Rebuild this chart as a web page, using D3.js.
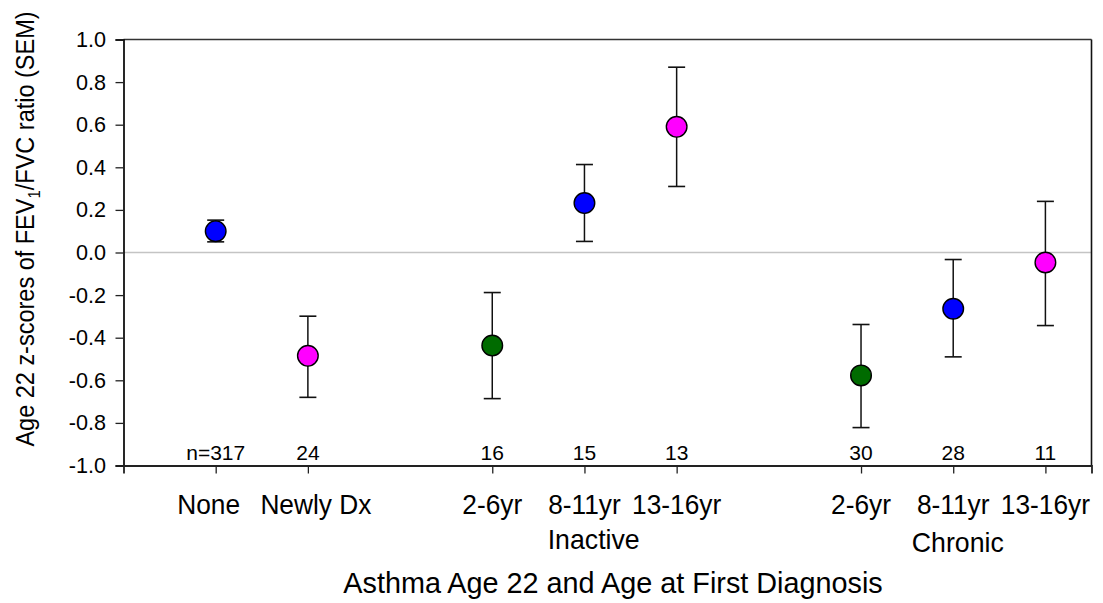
<!DOCTYPE html>
<html><head><meta charset="utf-8">
<script src="https://cdn.jsdelivr.net/npm/d3@7/dist/d3.min.js"></script>
<style>body{margin:0;background:#fff}text{font-family:"Liberation Sans",Arial,sans-serif;fill:#000}</style>
</head><body><svg id="c" width="1103" height="603"></svg>
<script>
const positions = [1, 2, 4, 5, 6, 8, 9, 10];
const categories = ["None", "Newly Dx", "2-6yr", "8-11yr", "13-16yr", "2-6yr", "8-11yr", "13-16yr"];
const groupLabels = [{pos: 5.1, text: "Inactive"}, {pos: 9.05, text: "Chronic"}];
const means = [0.10, -0.485, -0.437, 0.232, 0.59, -0.577, -0.264, -0.047];
const upper = [0.152, -0.299, -0.188, 0.413, 0.87, -0.338, -0.033, 0.24];
const lower = [0.05, -0.68, -0.686, 0.052, 0.31, -0.822, -0.49, -0.343];
const counts = ["n=317", "24", "16", "15", "13", "30", "28", "11"];
const colors = ["#0000ff", "#ff00ff", "#006b00", "#0000ff", "#ff00ff", "#006b00", "#0000ff", "#ff00ff"];
const yTicks = [1.0, 0.8, 0.6, 0.4, 0.2, 0.0, -0.2, -0.4, -0.6, -0.8, -1.0];

const svg = d3.select("#c");
const x = d3.scaleLinear().domain([0, 10.5]).range([123.5, 1091.5]);
const y = d3.scaleLinear().domain([-1, 1]).range([465.5, 39.5]);

function label(px, py, str, size, anchor, sy) {
  return svg.append("text")
    .attr("transform", `translate(${px},${py}) scale(1,${sy || 1})`)
    .attr("text-anchor", anchor || "middle")
    .style("font-size", size + "px").text(str);
}

// zero line
svg.append("line").attr("x1", x(0)).attr("x2", x(10.5)).attr("y1", y(0)).attr("y2", y(0))
  .attr("stroke", "#c4c4c4").attr("stroke-width", 1.5);

// frame top/right
svg.append("line").attr("x1", x(0)).attr("x2", x(10.5)).attr("y1", y(1)).attr("y2", y(1)).attr("stroke", "#333").attr("stroke-width", 1.3);
svg.append("line").attr("x1", x(10.5)).attr("x2", x(10.5)).attr("y1", y(1)).attr("y2", y(-1)).attr("stroke", "#111").attr("stroke-width", 1.6);

// y axis
const yAx = svg.append("g").attr("transform", `translate(${x(0)},0)`)
  .call(d3.axisLeft(y).tickValues(yTicks).tickFormat("").tickSizeOuter(0).tickSize(8));
yAx.select(".domain").attr("stroke", "#111").attr("stroke-width", 1.8);
yAx.selectAll(".tick line").attr("stroke", "#222").attr("stroke-width", 1.3);
yTicks.forEach(v => label(106, y(v) + 7.5, d3.format(".1f")(v).replace("−", "-"), 21.6, "end"));

// x axis
const xAx = svg.append("g").attr("transform", `translate(0,${y(-1)})`)
  .call(d3.axisBottom(x).tickValues(positions).tickFormat("").tickSizeOuter(0).tickSize(8));
xAx.select(".domain").attr("stroke", "#222").attr("stroke-width", 1.8);
xAx.selectAll(".tick line").attr("stroke", "#222").attr("stroke-width", 1.3);
const nudge = {0: -7, 1: 8};
positions.forEach((p, i) => label(x(p) + (nudge[i] || 0), 514, categories[i], 26.3, "middle", 1.05));

// group labels
groupLabels.forEach((d, i) => label(x(d.pos), i === 0 ? 549 : 552, d.text, 26.7, "middle", 1.05));

// n labels
counts.forEach((c, i) => label(x(positions[i]), 460, c, 21));

// error bars
const g = svg.append("g");
positions.forEach((p, i) => {
  const cx = x(p);
  g.append("line").attr("x1", cx).attr("x2", cx).attr("y1", y(upper[i])).attr("y2", y(lower[i])).attr("stroke", "#111").attr("stroke-width", 1.5);
  [upper[i], lower[i]].forEach(v => {
    g.append("line").attr("x1", cx - 8.5).attr("x2", cx + 8.5).attr("y1", y(v)).attr("y2", y(v)).attr("stroke", "#111").attr("stroke-width", 1.6);
  });
});
// points
svg.selectAll(".pt").data(means).enter().append("circle")
  .attr("cx", (d, i) => x(positions[i])).attr("cy", d => y(d)).attr("r", 10.3)
  .attr("fill", (d, i) => colors[i]).attr("stroke", "#000").attr("stroke-width", 1.4);

// axis titles
label(613, 593, "Asthma Age 22 and Age at First Diagnosis", 28.8);
const yt = svg.append("text").attr("transform", `translate(34,229) scale(1.13,1) rotate(-90)`)
  .attr("text-anchor", "middle").style("font-size", "23.5px");
yt.append("tspan").text("Age 22 z-scores of FEV");
yt.append("tspan").attr("dy", 5).style("font-size", "15px").text("1");
yt.append("tspan").attr("dy", -5).text("/FVC ratio (SEM)");
</script></body></html>
